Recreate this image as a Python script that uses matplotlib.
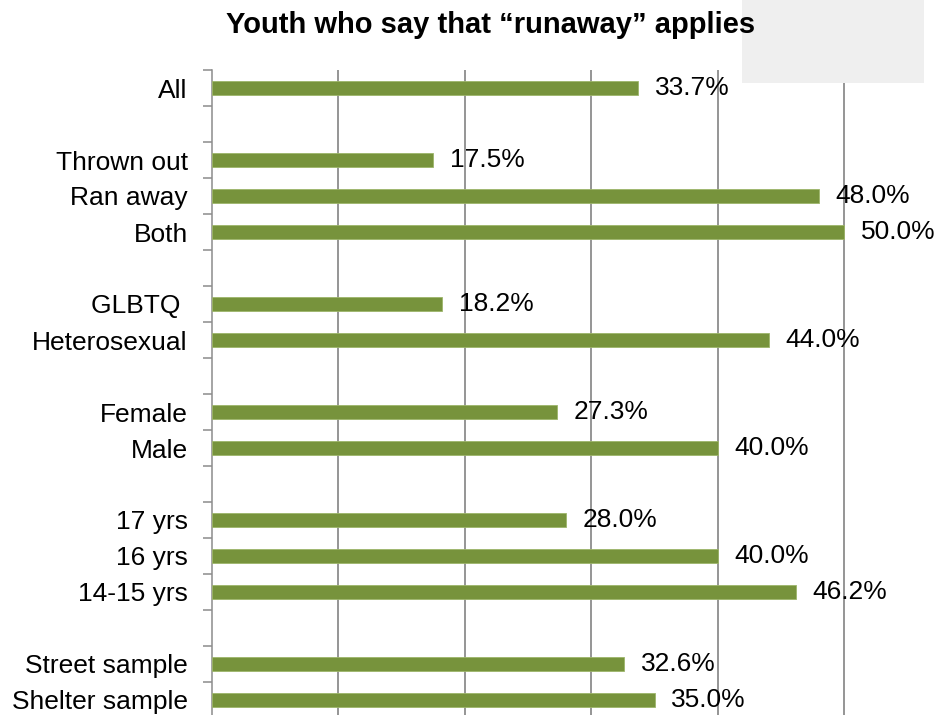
"""Youth who say that "runaway" applies -- horizontal bar chart."""

import numpy as np
import matplotlib
matplotlib.use("Agg")
import matplotlib.pyplot as plt
from matplotlib.patches import Rectangle

plt.rcParams["font.family"] = ["Liberation Sans", "DejaVu Sans"]

# rows top to bottom; blank strings are the gaps between groups
labels = ["All", "",
          "Thrown out", "Ran away", "Both", "",
          "GLBTQ ", "Heterosexual", "",
          "Female", "Male", "",
          "17 yrs", "16 yrs", "14-15 yrs", "",
          "Street sample", "Shelter sample"]
values = [33.7, np.nan,
          17.5, 48.0, 50.0, np.nan,
          18.2, 44.0, np.nan,
          27.3, 40.0, np.nan,
          28.0, 40.0, 46.2, np.nan,
          32.6, 35.0]
grid_ticks = [10, 20, 30, 40, 50]

BAR = "#77933C"
GRID = "#8C8C8C"

W, H = 937, 715
fig = plt.figure(figsize=(W / 100, H / 100), dpi=100)

# light grey box in the top-right corner (behind the plot)
fig.patches.append(Rectangle((742 / W, 1 - 83 / H), 182 / W, 83 / H,
                             transform=fig.transFigure, facecolor="#EFEFEF",
                             edgecolor="none", zorder=0))

ax = fig.add_axes([212 / W, -3 / H, 1 - 212 / W, 648 / H])
ax.patch.set_alpha(0)

y = np.arange(len(labels))
ax.barh(y, values, height=0.38, color=BAR, edgecolor="#9DB56A",
        linewidth=0.6, zorder=3)

for yi, v in zip(y, values):
    if np.isnan(v):
        continue
    ax.text(v + 1.3, yi, f"{v:.1f}%", va="center", ha="left",
            fontsize=19, color="black", zorder=4)

ax.set_xlim(0, (W - 212) / 12.65)
ax.set_ylim(len(labels) - 0.5, -0.5)

ax.set_xticks(grid_ticks)
ax.tick_params(axis="x", bottom=False, labelbottom=False)
ax.grid(axis="x", color=GRID, linewidth=1.3, zorder=1)
ax.set_axisbelow(True)

ax.set_yticks(y)
ax.set_yticklabels(labels, fontsize=19)
ax.set_yticks(np.arange(len(labels) + 1) - 0.5, minor=True)
ax.tick_params(axis="y", which="major", length=0, pad=17.5)
ax.tick_params(axis="y", which="minor", length=6.5, width=1.1, color=GRID,
               direction="out")

for side in ("top", "right", "bottom"):
    ax.spines[side].set_visible(False)
ax.spines["left"].set_color(GRID)
ax.spines["left"].set_linewidth(1.1)

fig.text(491 / W, 1 - 25 / H, "Youth who say that \u201crunaway\u201d applies",
         ha="center", va="center", fontsize=21, fontweight="bold")

fig.savefig("out.png", dpi=100)
